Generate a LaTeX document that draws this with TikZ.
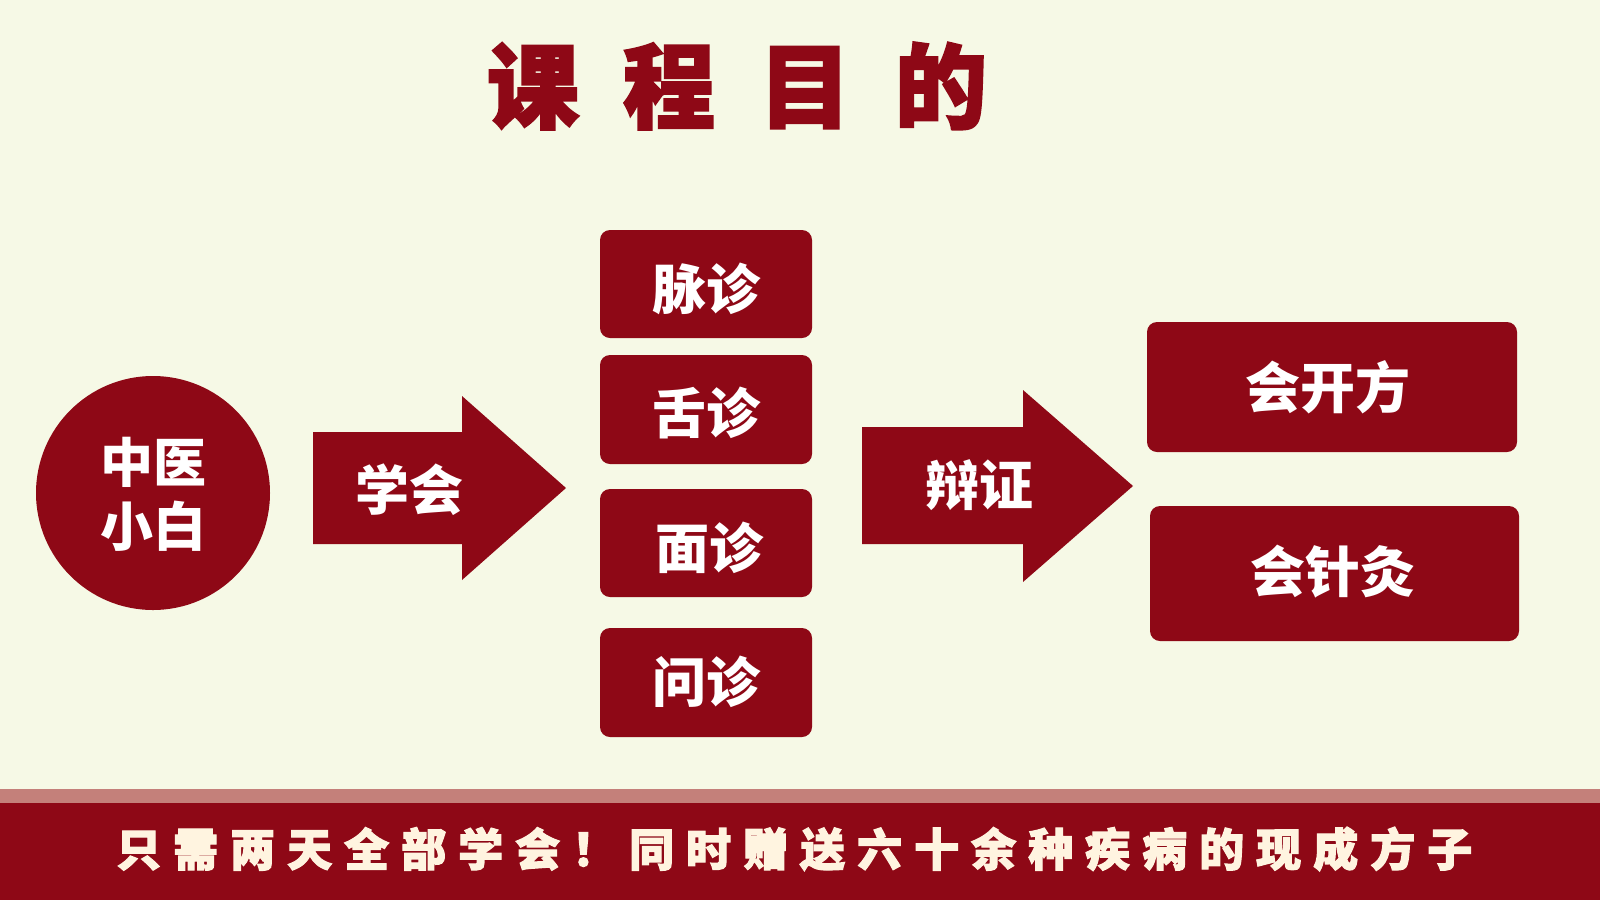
\documentclass[tikz,border=0pt]{standalone}
\usepackage{fontspec}
\newfontfamily\cjk{Noto Sans CJK SC}
\newfontfamily\cjkh{Noto Sans CJK SC}[BoldFeatures={FakeBold=2.5}]
\definecolor{bg}{RGB}{246,249,230}
\definecolor{dred}{RGB}{142,8,22}
\definecolor{stripe}{RGB}{196,128,122}
\definecolor{cream}{RGB}{255,244,224}
\newlength\lspamount
\def\lspi#1{\ifx\relax#1\else#1\kern\lspamount\expandafter\lspi\fi}
\newcommand\lspaced[2]{\setlength\lspamount{#1}\lspi#2\relax}
\tikzset{
  redbox/.style={fill=dred, rounded corners=10pt, draw=none, inner sep=0pt},
  boxtext/.style={text=white, inner sep=0pt, font=\cjk\bfseries\fontsize{54}{60}\selectfont},
  blockarrow/.style={fill=dred, draw=none},
}
\begin{document}
\begin{tikzpicture}[x=1pt,y=-1pt]
\useasboundingbox (0,0) rectangle (1600,900);
\fill[bg] (0,0) rectangle (1600,900);
% title
\node[text=dred, inner sep=0pt, font=\cjkh\bfseries\fontsize{92}{100}\selectfont] (title) at (737,86)
  {课\kern44pt 程\kern44pt 目\kern44pt 的};
% circle
\node[circle, fill=dred, minimum size=234pt, inner sep=0pt] (circ) at (153,493) {};
\node[text=white, inner sep=0pt, align=center, font=\cjk\bfseries\fontsize{53}{64}\selectfont] (circtext) at (153,494) {中医\\小白};
% arrow 1
\coordinate (a1s) at (313,488);
\fill[blockarrow] (313,432) -- (462,432) -- (462,396) -- (566,488) -- (462,580) -- (462,544) -- (313,544) -- cycle;
\coordinate (a1t) at (566,488);
\node[boxtext] (learn) at (409,490) {学会};
% middle boxes
\node[redbox, minimum width=212pt, minimum height=108pt] (b1) at (706,284) {};
\node[redbox, minimum width=212pt, minimum height=109pt] (b2) at (706,409.5) {};
\node[redbox, minimum width=212pt, minimum height=108pt] (b3) at (706,543) {};
\node[redbox, minimum width=212pt, minimum height=109pt] (b4) at (706,682.5) {};
\node[boxtext] (t1) at (706,289) {脉诊};
\node[boxtext] (t2) at (706,413) {舌诊};
\node[boxtext] (t3) at (709,548) {面诊};
\node[boxtext] (t4) at (706,682) {问诊};
% arrow 2
\fill[blockarrow] (862,427) -- (1023,427) -- (1023,390) -- (1133,486) -- (1023,582) -- (1023,544) -- (862,544) -- cycle;
\node[boxtext] (bian) at (979,485) {辩证};
% right boxes
\node[redbox, minimum width=370pt, minimum height=130pt] (r1) at (1332,387) {};
\node[redbox, minimum width=369pt, minimum height=135pt] (r2) at (1334.5,573.5) {};
\node[boxtext, font=\cjk\bfseries\fontsize{55}{60}\selectfont] (rt1) at (1328,387) {会开方};
\node[boxtext, font=\cjk\bfseries\fontsize{55}{60}\selectfont] (rt2) at (1333,572) {会针灸};
% bottom band
\fill[stripe] (0,789) rectangle (1600,803);
\fill[dred] (0,803) rectangle (1600,900);
\node[anchor=west, text=cream, inner sep=0pt, font=\cjkh\bfseries\fontsize{45}{50}\selectfont] (bottom) at (116,849)
  {\lspaced{12pt}{只需两天全部学会！同时赠送六十余种疾病的现成方子}};
\end{tikzpicture}
\end{document}
